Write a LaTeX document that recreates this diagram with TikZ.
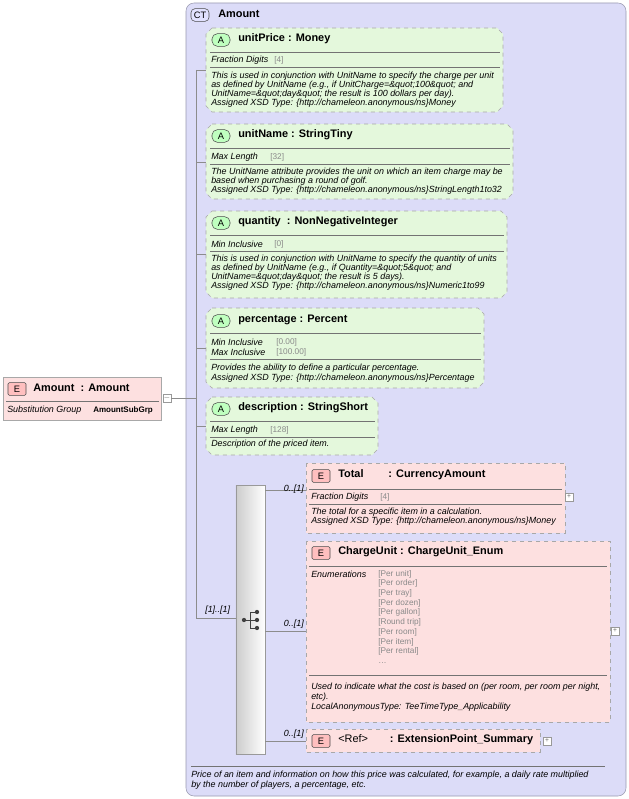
\documentclass[tikz,border=0pt]{standalone}
\usepackage{fontspec}
\setmainfont{Liberation Sans}
\definecolor{ctfill}{HTML}{DCDCF8}
\definecolor{ctline}{HTML}{9A9AB0}
\definecolor{attfill}{HTML}{E4F8DC}
\definecolor{elfill}{HTML}{FDE0E0}
\definecolor{boxline}{HTML}{A8A8A8}
\definecolor{facet}{HTML}{8A8A8A}
\tikzset{
  txt/.style={anchor=west, inner sep=0pt, font=\fontsize{6.7}{7}\selectfont\itshape},
  val/.style={anchor=west, inner sep=0pt, text=facet, font=\fontsize{6.2}{7}\selectfont},
  ttl/.style={anchor=west, inner sep=0pt, font=\fontsize{8.2}{9}\selectfont\bfseries},
  badge/.style={draw=black!70, rounded corners=1pt, minimum width=13.5pt, minimum height=9.5pt, inner sep=0pt, font=\fontsize{7}{8}\selectfont},
  abadge/.style={badge, fill=green!25, rounded corners=4pt},
  ebadge/.style={badge, fill=red!25},
  att/.style={draw=boxline, dashed, fill=attfill},
  elem/.style={draw=boxline, dashed, fill=elfill},
  sep/.style={draw=black!55, line width=0.4pt},
  wire/.style={draw=black!45, line width=0.5pt},
  pm/.style={draw=black!40, fill=white, minimum size=6pt, inner sep=0pt, font=\fontsize{5}{5}\selectfont, text=black!60},
  dot/.style={fill=black!75, circle, inner sep=0pt, minimum size=3.2pt},
}
% chamfered attribute box: x1, y1, x2, y2
\newcommand{\attbox}[4]{\path[att] (#1+6,#2) -- (#3-6,#2) -- (#3,#2+6) -- (#3,#4-6) -- (#3-6,#4) -- (#1+6,#4) -- (#1,#4-6) -- (#1,#2+6) -- cycle;}
\begin{document}
\begin{tikzpicture}[x=0.75pt, y=-0.75pt]
\useasboundingbox (0,0) rectangle (628,799);

% complex type
\path[draw=ctline, fill=ctfill, rounded corners=6pt] (186,3) rectangle (626,796);
\node[badge, fill=ctfill!70!blue!30, rounded corners=3pt] (ct) at (200,15) {CT};
\node[ttl] (ctname) at (218,14) {Amount};

% root element
\path[draw=boxline, fill=elfill] (3,377) rectangle (161,420);
\node[ebadge] (eroot) at (17,389) {E};
\node[ttl] (rootname) at (33,388) {Amount\ \ : Amount};
\draw[sep] (6,401) -- (159,401);
\node[txt] at (7,410) {Substitution Group};
\node[val, text=black, font=\fontsize{6}{7}\selectfont\bfseries] at (93,410) {AmountSubGrp};
\node[pm] (rootpm) at (167,398) {$-$};
\coordinate (hub) at (196,398);
\draw[wire] (rootpm) -- (hub);
\draw[wire] (196,70) -- (196,618);

% unitPrice
\attbox{206}{28}{503}{112}
\node[abadge] (aprice) at (221,40) {A};
\node[ttl] (price) at (238,39) {unitPrice\ : Money};
\draw[sep] (210,52) -- (500,52);
\node[txt] at (211,60) {Fraction Digits};
\node[val] at (274,60) {[4]};
\draw[sep] (210,67) -- (500,67);
\node[txt] at (211,76) {This is used in conjunction with UnitName to specify the charge per unit};
\node[txt] at (211,85) {as defined by UnitName (e.g., if UnitCharge=\&quot;100\&quot; and};
\node[txt] at (211,94) {UnitName=\&quot;day\&quot; the result is 100 dollars per day).};
\node[txt] at (211,103) {Assigned XSD Type: \{http://chameleon.anonymous/ns\}Money};
\draw[wire] (196,70) -- (206,70);

% unitName
\attbox{206}{124}{513}{199}
\node[abadge] (aname) at (221,136) {A};
\node[ttl] (uname) at (238,135) {unitName\ : StringTiny};
\draw[sep] (210,148) -- (510,148);
\node[txt] at (211,157) {Max Length};
\node[val] at (270,157) {[32]};
\draw[sep] (210,164) -- (510,164);
\node[txt] at (211,172) {The UnitName attribute provides the unit on which an item charge may be};
\node[txt] at (211,181) {based when purchasing a round of golf.};
\node[txt] at (211,190) {Assigned XSD Type: \{http://chameleon.anonymous/ns\}StringLength1to32};
\draw[wire] (196,162) -- (206,162);

% quantity
\attbox{206}{211}{507}{298}
\node[abadge] (aqty) at (221,223) {A};
\node[ttl] (qty) at (238,222) {quantity\ \ : NonNegativeInteger};
\draw[sep] (210,235) -- (504,235);
\node[txt] at (211,244) {Min Inclusive};
\node[val] at (274,244) {[0]};
\draw[sep] (210,251) -- (504,251);
\node[txt] at (211,259) {This is used in conjunction with UnitName to specify the quantity of units};
\node[txt] at (211,268) {as defined by UnitName (e.g., if Quantity=\&quot;5\&quot; and};
\node[txt] at (211,277) {UnitName=\&quot;day\&quot; the result is 5 days).};
\node[txt] at (211,286) {Assigned XSD Type: \{http://chameleon.anonymous/ns\}Numeric1to99};
\draw[wire] (196,254) -- (206,254);

% percentage
\attbox{206}{308}{484}{388}
\node[abadge] (apct) at (221,321) {A};
\node[ttl] (pct) at (238,320) {percentage\ : Percent};
\draw[sep] (210,333) -- (481,333);
\node[txt] at (211,342) {Min Inclusive};
\node[val] at (276,342) {[0.00]};
\node[txt] at (211,352) {Max Inclusive};
\node[val] at (276,352) {[100.00]};
\draw[sep] (210,359) -- (481,359);
\node[txt] at (211,368) {Provides the ability to define a particular percentage.};
\node[txt] at (211,378) {Assigned XSD Type: \{http://chameleon.anonymous/ns\}Percentage};
\draw[wire] (196,348) -- (206,348);

% description
\attbox{206}{397}{378}{455}
\node[abadge] (adesc) at (221,409) {A};
\node[ttl] (desc) at (238,408) {description\ : StringShort};
\draw[sep] (210,421) -- (375,421);
\node[txt] at (211,430) {Max Length};
\node[val] at (270,430) {[128]};
\draw[sep] (210,437) -- (375,437);
\node[txt] at (211,444) {Description of the priced item.};
\draw[wire] (196,426) -- (206,426);

% sequence
\node[draw=black!40, left color=black!20, right color=white, minimum width=22pt, minimum height=202pt, inner sep=0pt] (seq) at (250.5,620) {};
\draw[black!75, line width=0.7pt] (244,620) -- (250,620) (250,612) -- (250,628) (250,612) -- (256,612) (250,620) -- (256,620) (250,628) -- (256,628);
\foreach \yy in {612,620,628} \node[dot] at (257,\yy) {};
\node[dot] at (244,620) {};
\coordinate (seqin) at (196,618);
\draw[wire] (seqin) -- (seq.west |- seqin);
\node[txt, anchor=south west] at (205,615) {[1]..[1]};

% Total
\path[elem] (306,463) rectangle (565,533);
\node[ebadge] (etotal) at (321,476) {E};
\node[ttl] (total) at (338,475) {Total\qquad\ : CurrencyAmount};
\draw[sep] (309,489) -- (562,489);
\node[txt] at (311,497) {Fraction Digits};
\node[val] at (380,497) {[4]};
\draw[sep] (309,504) -- (562,504);
\node[txt] at (311,512) {The total for a specific item in a calculation.};
\node[txt] at (311,521) {Assigned XSD Type: \{http://chameleon.anonymous/ns\}Money};
\node[pm] (totalpm) at (569,497) {+};
\coordinate (ctotal) at (306,490);
\draw[wire] (seq.east |- ctotal) -- (ctotal);
\node[txt, anchor=south east] at (304,494) {0..[1]};

% ChargeUnit
\path[elem] (306,541) rectangle (610,722);
\node[ebadge] (echarge) at (321,553) {E};
\node[ttl] (charge) at (338,552) {ChargeUnit : ChargeUnit\_Enum};
\draw[sep] (309,566) -- (607,566);
\node[txt] at (311,574) {Enumerations};
\foreach \v [count=\i from 0] in {{[Per unit]},{[Per order]},{[Per tray]},{[Per dozen]},{[Per gallon]},{[Round trip]},{[Per room]},{[Per item]},{[Per rental]}}
  \node[val] at (378,574+9.7*\i) {\v};
\node[val] at (378,663) {\dots};
\draw[sep] (309,675) -- (607,675);
\node[txt] at (311,687) {Used to indicate what the cost is based on (per room, per room per night,};
\node[txt] at (311,697) {etc).};
\node[txt] at (311,707) {LocalAnonymousType: TeeTimeType\_Applicability};
\node[pm] (chargepm) at (615,631) {+};
\coordinate (ccharge) at (306,631);
\draw[wire] (seq.east |- ccharge) -- (ccharge);
\node[txt, anchor=south east] at (304,629) {0..[1]};

% Ref
\path[elem] (306,729) rectangle (540,752);
\node[ebadge] (eref) at (321,741) {E};
\node[ttl] (ref) at (338,740) {\mdseries <Ref>\qquad\bfseries: ExtensionPoint\_Summary};
\node[pm] (refpm) at (547,741) {+};
\coordinate (cref) at (306,741);
\draw[wire] (seq.east |- cref) -- (cref);
\node[txt, anchor=south east] at (304,739) {0..[1]};

% footer
\draw[sep] (191,766) -- (605,766);
\node[txt] at (191,775) {Price of an item and information on how this price was calculated, for example, a daily rate multiplied};
\node[txt] at (191,785) {by the number of players, a percentage, etc.};
\end{tikzpicture}
\end{document}
